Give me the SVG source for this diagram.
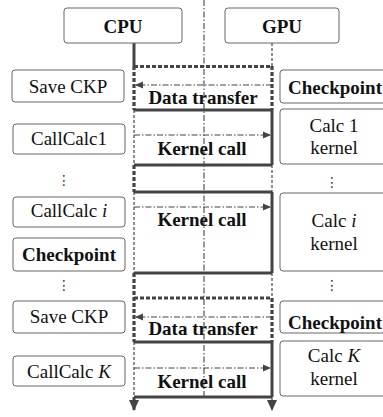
<svg xmlns="http://www.w3.org/2000/svg" width="383" height="417" viewBox="0 0 383 417">
<style>
text{font-family:"Liberation Serif","Times New Roman","DejaVu Serif",serif;font-size:19px;fill:#111;text-anchor:middle}
.b{font-weight:bold}
.box{fill:#fff;stroke:#666;stroke-width:1}
.thin{stroke:#444;stroke-width:1.2;stroke-dasharray:3 2;fill:none}
.thick{stroke:#444;stroke-width:3;fill:none}
.thickd{stroke:#444;stroke-width:3.2;stroke-dasharray:4 2;fill:none}
.dd{stroke:#444;stroke-width:1.1;stroke-dasharray:6 2 1.5 2;fill:none}
.dots{font-family:"DejaVu Sans",sans-serif;font-size:14px;fill:#333}
</style>
<defs>
<marker id="ah" markerWidth="8" markerHeight="8" refX="7" refY="4" orient="auto" markerUnits="userSpaceOnUse">
<path d="M0,0.5 L8,4 L0,7.5 Z" fill="#444"/>
</marker>
<marker id="big" markerWidth="11" markerHeight="10" refX="10" refY="5" orient="auto" markerUnits="userSpaceOnUse">
<path d="M0,0 L11,5 L0,10 Z" fill="#444"/>
</marker>
</defs>

<g id="connectors">
<!-- center divider -->
<path class="dd" d="M204,0 V397"/>
<!-- CPU lifeline -->
<path class="thick" d="M134,43 V66"/>
<path class="thickd" d="M134,66 V110"/>
<path class="thin" d="M134,110 V165"/>
<path class="thickd" d="M134,165 V192"/>
<path class="thin" d="M134,192 V273"/>
<path class="thickd" d="M134,273 V342"/>
<path class="thin" d="M134,342 V397"/>
<path class="thick" d="M134,397 V410" marker-end="url(#big)"/>
<!-- GPU lifeline -->
<path class="thin" d="M272,43 V66"/>
<path class="thickd" d="M272,66 V110"/>
<path class="thick" d="M272,110 V165"/>
<path class="thin" d="M272,165 V192"/>
<path class="thick" d="M272,192 V273"/>
<path class="thin" d="M272,273 V298"/>
<path class="thickd" d="M272,298 V342"/>
<path class="thick" d="M272,342 V397"/>
<path class="thin" d="M272,397 V410" marker-end="url(#big)"/>
<!-- data transfer 1 -->
<path class="thickd" d="M134,66.5 H272"/>
<path class="dd" d="M272,85 H136" marker-end="url(#ah)"/>
<path class="thick" d="M134,110 H272"/>
<!-- kernel call 1 -->
<path class="dd" d="M134,135 H270" marker-end="url(#ah)"/>
<path class="thick" d="M134,165 H272"/>
<!-- kernel call i -->
<path class="thick" d="M134,192 H272"/>
<path class="dd" d="M134,207 H270" marker-end="url(#ah)"/>
<path class="thick" d="M134,273 H272"/>
<!-- data transfer 2 -->
<path class="thickd" d="M134,298 H272"/>
<path class="dd" d="M272,317 H136" marker-end="url(#ah)"/>
<path class="thick" d="M134,342 H272"/>
<!-- kernel call K -->
<path class="dd" d="M134,368 H270" marker-end="url(#ah)"/>
<path class="thick" d="M134,397 H272"/>
<text class="b" x="203" y="104">Data transfer</text>
<text class="b" x="202" y="155">Kernel call</text>
<text class="b" x="202" y="226">Kernel call</text>
<text class="b" x="203" y="335">Data transfer</text>
<text class="b" x="202" y="388">Kernel call</text>
</g>

<g id="cpu"><rect class="box" x="64" y="8" width="118" height="35" rx="3"/><text class="b" x="123" y="33">CPU</text></g>
<g id="gpu"><rect class="box" x="225" y="8" width="114" height="35" rx="3"/><text class="b" x="282" y="33">GPU</text></g>

<g id="save-ckp-1"><rect class="box" x="12" y="70" width="112" height="32" rx="3"/><text x="68" y="93">Save CKP</text></g>
<g id="callcalc-1"><rect class="box" x="13" y="124" width="112" height="30" rx="3"/><text x="69" y="145">CallCalc1</text></g>
<g id="dots-l1"><text class="dots" x="64" y="185">⋮</text></g>
<g id="callcalc-i"><rect class="box" x="13" y="197" width="112" height="30" rx="3"/><text x="69" y="217">CallCalc <tspan font-style="italic">i</tspan></text></g>
<g id="checkpoint-l"><rect class="box" x="13" y="238" width="112" height="33" rx="3"/><text class="b" x="69" y="261">Checkpoint</text></g>
<g id="dots-l2"><text class="dots" x="64" y="290">⋮</text></g>
<g id="save-ckp-2"><rect class="box" x="13" y="301" width="112" height="32" rx="3"/><text x="69" y="323">Save CKP</text></g>
<g id="callcalc-k"><rect class="box" x="13" y="356" width="112" height="30" rx="3"/><text x="69" y="378">CallCalc <tspan font-style="italic">K</tspan></text></g>

<g id="checkpoint-r1"><rect class="box" x="280" y="70" width="112" height="33" rx="3"/><text class="b" x="335" y="94">Checkpoint</text></g>
<g id="calc-1"><rect class="box" x="280" y="109" width="112" height="55" rx="3"/><text x="334" y="132">Calc 1</text><text x="334" y="154">kernel</text></g>
<g id="dots-r1"><text class="dots" x="332" y="187">⋮</text></g>
<g id="calc-i"><rect class="box" x="280" y="193" width="112" height="78" rx="3"/><text x="334" y="227">Calc <tspan font-style="italic">i</tspan></text><text x="334" y="250">kernel</text></g>
<g id="dots-r2"><text class="dots" x="332" y="290">⋮</text></g>
<g id="checkpoint-r2"><rect class="box" x="280" y="301" width="112" height="32" rx="3"/><text class="b" x="335" y="329">Checkpoint</text></g>
<g id="calc-k"><rect class="box" x="280" y="341" width="112" height="55" rx="3"/><text x="334" y="362">Calc <tspan font-style="italic">K</tspan></text><text x="334" y="385">kernel</text></g>
</svg>
